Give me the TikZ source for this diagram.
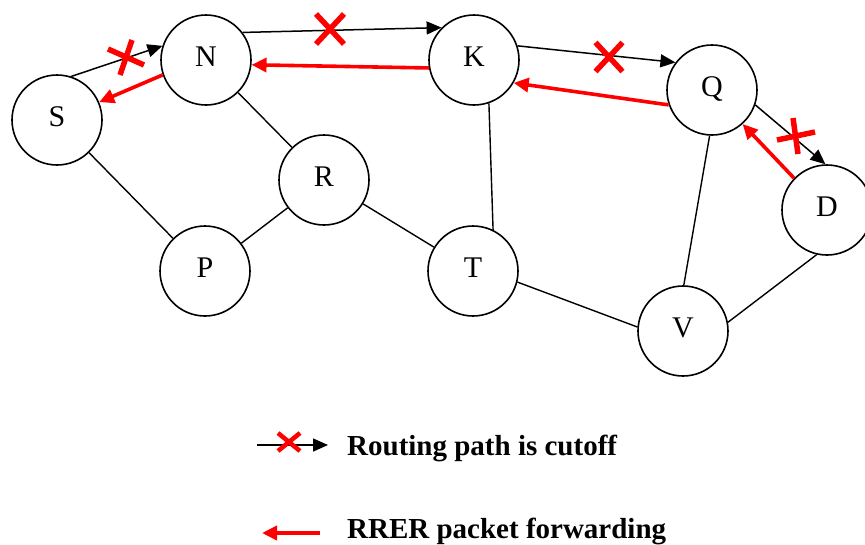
\documentclass[tikz,border=0pt]{standalone}
\usepackage{fontspec}
\setmainfont{Liberation Serif}
\usetikzlibrary{arrows.meta}
\begin{document}
\begin{tikzpicture}[x=1pt,y=-1pt,
  host/.style={circle,draw,line width=1.6pt,minimum size=90pt,inner sep=0pt,
    font=\fontsize{30}{33}\selectfont,text height=20pt,text depth=8pt},
  link/.style={line width=1.4pt},
  route/.style={line width=1.5pt,-{Triangle[length=15pt,width=13pt]}},
  rrer/.style={red,line width=3.6pt,-{Triangle[length=15pt,width=14pt]}},
  cut/.style={red,line width=5.5pt},
  legendtext/.style={anchor=base west,inner sep=0pt,font=\fontsize{29}{32}\selectfont\bfseries}]
\useasboundingbox (0,0) rectangle (865,544);

% hosts
\node[host] (S) at (57,120) {S};
\node[host] (N) at (206,60) {N};
\node[host] (K) at (474,60) {K};
\node[host] (Q) at (712,90) {Q};
\node[host] (R) at (324,180) {R};
\node[host] (P) at (205,271) {P};
\node[host] (T) at (473,271) {T};
\node[host] (V) at (683,331) {V};
\node[host] (D) at (827,210) {D};

% plain links
\draw[link] (S) -- (P);
\draw[link] (N) -- (R);
\draw[link] (R) -- (P);
\draw[link] (R) -- (T);
\draw[link] (K.-71.5) -- (T.64);
\draw[link] (T.-14) -- (V.175);
\draw[link] (Q.-93) -- (V.89);
\draw[link] (V.11) -- (D.-103);

% broken route S -> N -> K -> Q -> D
\draw[route] (S.72) -- (N.162);
\draw[route] (N.37) -- (K.135);
\draw[route] (K.18) -- (Q.143);
\draw[route] (Q.341) -- (D.92);

% RRER packets travelling back
\draw[rrer] (D.136) -- (Q.312);
\draw[rrer] (Q.199) -- (K.330);
\draw[rrer] (K.190) -- (N.354);
\draw[rrer] (N.199) -- (S.23);

% cut marks on the route
\coordinate (x1) at (126,57);
\coordinate (x2) at (330,29);
\coordinate (x3) at (609,57);
\coordinate (x4) at (796,136);
\draw[cut] ([shift={(-18,-8)}]x1) -- ([shift={(18,8)}]x1);
\draw[cut] ([shift={(6,-17)}]x1) -- ([shift={(-6,18)}]x1);
\draw[cut] ([shift={(-14,-15)}]x2) -- ([shift={(14,15)}]x2);
\draw[cut] ([shift={(14,-15)}]x2) -- ([shift={(-14,15)}]x2);
\draw[cut] ([shift={(-13.5,-14.5)}]x3) -- ([shift={(13.5,14.5)}]x3);
\draw[cut] ([shift={(13.5,-14.5)}]x3) -- ([shift={(-13.5,14.5)}]x3);
\draw[cut] ([shift={(-19,4)}]x4) -- ([shift={(19,-4)}]x4);
\draw[cut] ([shift={(-3,-18)}]x4) -- ([shift={(2,18)}]x4);

% legend
\coordinate (la) at (257,445);
\coordinate (lb) at (328,445);
\coordinate (lx) at (289,442);
\draw[route] (la) -- (lb);
\draw[cut,line width=4.5pt] ([shift={(-11,-9)}]lx) -- ([shift={(11,9)}]lx);
\draw[cut,line width=4.5pt] ([shift={(11,-9)}]lx) -- ([shift={(-11,9)}]lx);
\node[legendtext] (l1) at (347,455) {Routing path is cutoff};

\coordinate (ra) at (320,533);
\coordinate (rb) at (262,533);
\draw[rrer] (ra) -- (rb);
\node[legendtext] (l2) at (347,538) {RRER packet forwarding};
\end{tikzpicture}
\end{document}
